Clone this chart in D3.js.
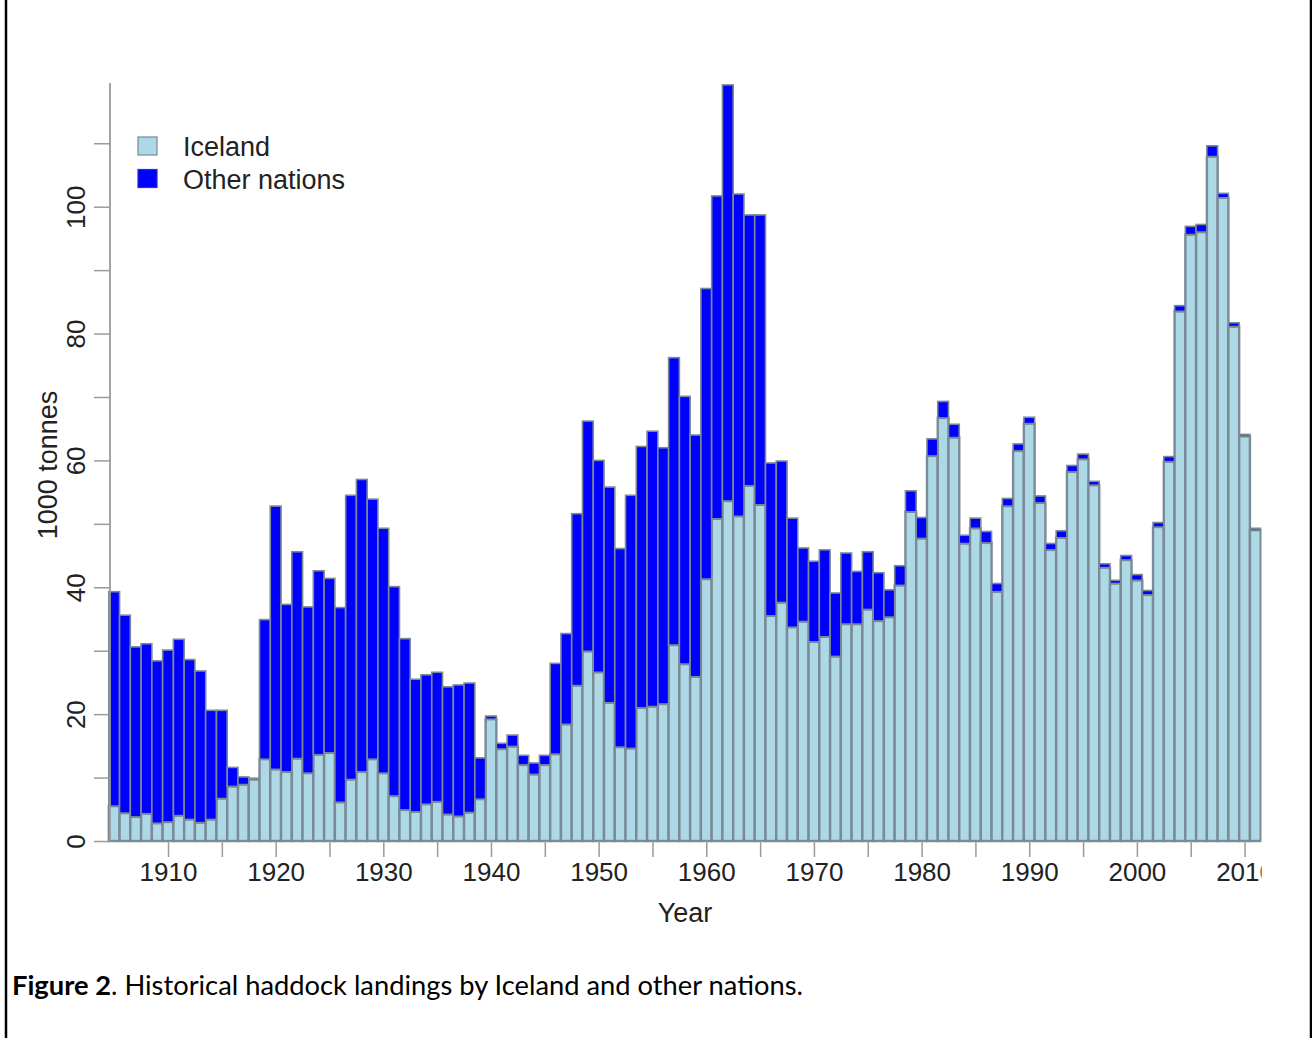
<!DOCTYPE html>
<html>
<head>
<meta charset="utf-8">
<script src="https://cdn.jsdelivr.net/npm/d3@7"></script>
<style>
  body { margin: 0; background: #fff; }
  svg { display: block; }
</style>
</head>
<body>
<div id="chart"></div>
<script>
// haddock landings, 1000 tonnes
const years = d3.range(1905, 2012)
const iceland = [
  5.5, 4.4, 3.8, 4.3, 2.8, 3.0, 4.0, 3.4, 2.9, 3.4,
  6.7, 8.6, 8.9, 9.7, 12.9, 11.3, 10.9, 13.0, 10.7, 13.6,
  13.9, 6.1, 9.7, 10.9, 12.9, 10.7, 7.1, 4.9, 4.6, 5.8,
  6.2, 4.2, 3.9, 4.5, 6.6, 19.2, 14.5, 14.9, 12.0, 10.5,
  12.0, 13.7, 18.4, 24.5, 29.9, 26.6, 21.8, 14.8, 14.6, 21.0,
  21.2, 21.6, 30.9, 27.9, 25.9, 41.3, 50.8, 53.6, 51.2, 56.0,
  53.0, 35.5, 37.6, 33.7, 34.6, 31.4, 32.2, 29.1, 34.2, 34.2,
  36.5, 34.7, 35.3, 40.3, 51.9, 47.7, 60.7, 66.7, 63.6, 46.9,
  49.3, 47.0, 39.3, 52.8, 61.5, 65.8, 53.3, 45.9, 47.8, 58.2,
  60.2, 56.1, 43.1, 40.6, 44.3, 41.1, 38.8, 49.5, 59.8, 83.5,
  95.6, 96.0, 107.9, 101.4, 81.1, 63.8, 49.0
]
const others = [
  33.8, 31.2, 26.8, 26.8, 25.6, 27.1, 27.8, 25.2, 23.9, 17.2,
  13.9, 3.0, 1.2, 0.2, 22.0, 41.5, 26.4, 32.6, 26.2, 29.0,
  27.5, 30.7, 44.8, 46.1, 41.0, 38.6, 33.0, 27.0, 20.9, 20.4,
  20.4, 20.1, 20.7, 20.4, 6.5, 0.5, 0.9, 1.8, 1.5, 1.8,
  1.5, 14.3, 14.3, 27.1, 36.3, 33.4, 34.0, 31.3, 39.9, 41.2,
  43.4, 40.4, 45.3, 42.2, 38.1, 45.8, 50.9, 65.6, 50.8, 42.7,
  45.7, 24.1, 22.3, 17.2, 11.6, 12.7, 13.7, 10.0, 11.2, 8.3,
  9.1, 7.6, 4.3, 3.1, 3.3, 3.3, 2.7, 2.6, 2.1, 1.3,
  1.6, 1.8, 1.3, 1.2, 1.1, 1.0, 1.1, 1.0, 1.1, 1.0,
  0.8, 0.6, 0.6, 0.5, 0.7, 0.9, 0.7, 0.7, 0.8, 0.9,
  1.3, 1.2, 1.7, 0.7, 0.6, 0.3, 0.3
]
const seriesNames = ["Iceland", "Other nations"]
const yTicks = d3.range(0, 111, 10)
const xTicks = d3.range(1910, 2011, 5)

const width = 1312
const height = 1038
const fontFamily = "'Liberation Sans', Arial, Helvetica, sans-serif"
const iceFill = "#add8e6"
const otherFill = "#0000ff"
const barEdge = "#7a8a96"
const axisGrey = "#9a9a9a"
const textCol = "#222"

var svg = d3.select("#chart")
  .append("svg")
  .attr("width", width)
  .attr("height", height)

// frame lines at page edges
svg.append("line").attr("x1", 6).attr("x2", 6).attr("y1", 0).attr("y2", height)
  .style("stroke", "#000").style("stroke-width", 2.5)
svg.append("line").attr("x1", 1311).attr("x2", 1311).attr("y1", 0).attr("y2", height)
  .style("stroke", "#000").style("stroke-width", 2.5)

const x = d3.scaleBand()
  .domain(years)
  .range([108.8, 1260.7])
  .padding(0)

const y = d3.scaleLinear()
  .domain([0, 119.5])
  .range([841, 83])

// year axis on a linear scale through bar centres
const xYear = d3.scaleLinear()
  .domain([1905, 2011])
  .range([x(1905) + x.bandwidth() / 2, x(2011) + x.bandwidth() / 2])

svg.append("clipPath").attr("id", "plotclip")
  .append("rect").attr("x", 0).attr("y", 0).attr("width", 1261.5).attr("height", height)

var plot = svg.append("g").attr("clip-path", "url(#plotclip)")

const rows = years.map((yr, i) => ({ year: yr, ice: iceland[i], other: others[i] }))

// Iceland part
plot.selectAll(".ice")
  .data(rows)
  .enter().append("rect")
  .attr("class", "ice")
  .attr("x", d => x(d.year))
  .attr("width", x.bandwidth())
  .attr("y", d => y(d.ice))
  .attr("height", d => y(0) - y(d.ice))
  .style("fill", iceFill)
  .style("stroke", barEdge)
  .style("stroke-width", 2.4)

// other nations stacked on top
plot.selectAll(".other")
  .data(rows)
  .enter().append("rect")
  .attr("class", "other")
  .attr("x", d => x(d.year))
  .attr("width", x.bandwidth())
  .attr("y", d => y(d.ice + d.other))
  .attr("height", d => y(d.ice) - y(d.ice + d.other))
  .style("fill", otherFill)
  .style("stroke", barEdge)
  .style("stroke-width", 1.6)

// x axis
var xAxis = plot.append("g")
  .attr("transform", "translate(0," + y(0) + ")")
  .call(d3.axisBottom(xYear)
    .tickValues(xTicks)
    .tickSize(16)
    .tickPadding(6)
    .tickFormat(d => d % 10 === 0 ? d : ""))
xAxis.select(".domain").remove()
xAxis.selectAll("line").style("stroke", axisGrey).style("stroke-width", 1.5)
xAxis.selectAll("text")
  .style("font-family", fontFamily)
  .style("font-size", "26px")
  .style("fill", textCol)

// y axis
var yAxis = svg.append("g")
  .attr("transform", "translate(110,0)")
  .call(d3.axisLeft(y)
    .tickValues(yTicks)
    .tickSize(16)
    .tickFormat(d => d % 20 === 0 && d <= 100 ? d : ""))
yAxis.select(".domain")
  .attr("d", "M0," + y(0) + "V" + y(119.5))
  .style("stroke", axisGrey).style("stroke-width", 1.8)
yAxis.selectAll("line").style("stroke", axisGrey).style("stroke-width", 1.5)
yAxis.selectAll("text")
  .attr("x", 0).attr("dy", 0)
  .attr("text-anchor", "middle")
  .attr("transform", "translate(-25,0) rotate(-90)")
  .style("font-family", fontFamily)
  .style("font-size", "26px")
  .style("fill", textCol)

// axis titles
svg.append("text")
  .attr("transform", "translate(57,465) rotate(-90)")
  .attr("text-anchor", "middle")
  .style("font-family", fontFamily)
  .style("font-size", "27px")
  .style("fill", textCol)
  .text("1000 tonnes")

svg.append("text")
  .attr("x", 685).attr("y", 922)
  .attr("text-anchor", "middle")
  .style("font-family", fontFamily)
  .style("font-size", "27px")
  .style("fill", textCol)
  .text("Year")

// legend
var legend = svg.append("g").attr("transform", "translate(138,137)")
var item = legend.selectAll(".item")
  .data(seriesNames)
  .enter().append("g")
  .attr("class", "item")
  .attr("transform", (d, i) => "translate(0," + i * 32.5 + ")")
item.append("rect")
  .attr("width", 19).attr("height", 18)
  .style("fill", (d, i) => i === 0 ? iceFill : otherFill)
  .style("stroke", (d, i) => i === 0 ? barEdge : "#2a2ad8")
  .style("stroke-width", 1.2)
item.append("text")
  .attr("x", 45).attr("y", 19)
  .style("font-family", fontFamily)
  .style("font-size", "27px")
  .style("fill", textCol)
  .text(d => d)

// caption
var caption = svg.append("text")
  .attr("x", 12).attr("y", 995)
  .style("font-family", "Lato, 'Open Sans', sans-serif")
  .style("font-size", "25px")
  .style("fill", "#000")
caption.append("tspan").style("font-weight", "bold").text("Figure 2")
caption.append("tspan").text(". Historical haddock landings by Iceland and other nations.")

// stretch the caption to the width it has in the figure
const capW = caption.node().getComputedTextLength()
if (capW > 0) {
  caption.style("font-size", (25 * 791 / capW).toFixed(2) + "px")
}
</script>
</body>
</html>
